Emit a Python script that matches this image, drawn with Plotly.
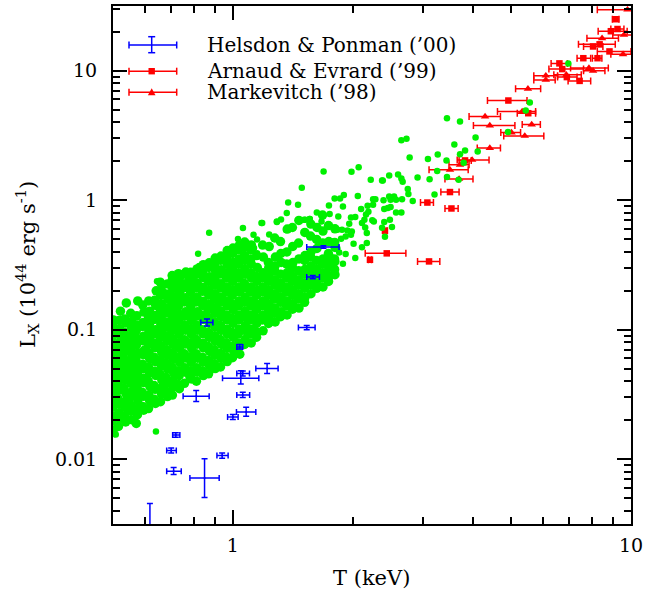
import math
import plotly.graph_objects as go

# ---------------- data ----------------
# Simulated clusters (green points), dense part: temperature T [keV], luminosity L [1e44 erg/s]
green_core_T = [
    0.501, 0.498, 0.502, 0.499, 0.503, 0.500, 0.497, 0.502, 0.499, 0.501, 0.498, 0.503, 0.500, 0.497, 0.502, 0.499, 0.501,
    0.516, 0.520, 0.517, 0.521, 0.515, 0.519, 0.516, 0.520, 0.518, 0.515, 0.521, 0.517, 0.519, 0.516, 0.520, 0.518, 0.522,
    0.538, 0.534, 0.537, 0.535, 0.539, 0.533, 0.536, 0.538, 0.534, 0.537, 0.535, 0.539, 0.536, 0.533, 0.538, 0.535, 0.540,
    0.557, 0.553, 0.556, 0.552, 0.558, 0.554, 0.557, 0.553, 0.556, 0.559, 0.554, 0.557, 0.553, 0.556, 0.558, 0.554,
    0.572, 0.576, 0.573, 0.577, 0.571, 0.575, 0.572, 0.576, 0.574, 0.571, 0.577, 0.573, 0.575, 0.572, 0.576, 0.574, 0.577,
    0.597, 0.593, 0.596, 0.592, 0.598, 0.594, 0.597, 0.593, 0.596, 0.599, 0.594, 0.597, 0.593, 0.596, 0.598, 0.594,
    0.614, 0.618, 0.615, 0.619, 0.613, 0.617, 0.614, 0.618, 0.616, 0.613, 0.619, 0.615, 0.617, 0.614, 0.618, 0.615,
    0.639, 0.635, 0.638, 0.634, 0.640, 0.636, 0.639, 0.635, 0.638, 0.641, 0.636, 0.639, 0.635, 0.638, 0.640, 0.636, 0.642,
    0.658, 0.662, 0.659, 0.663, 0.657, 0.661, 0.658, 0.662, 0.660, 0.657, 0.663, 0.659, 0.661, 0.658, 0.662, 0.659, 0.661, 0.657,
    0.685, 0.681, 0.684, 0.680, 0.686, 0.682, 0.685, 0.681, 0.684, 0.687, 0.682, 0.685, 0.681, 0.684, 0.686, 0.682, 0.685,
    0.705, 0.709, 0.706, 0.710, 0.704, 0.708, 0.705, 0.709, 0.707, 0.704, 0.710, 0.706, 0.708, 0.705, 0.709, 0.706, 0.708, 0.704,
    0.734, 0.730, 0.733, 0.729, 0.735, 0.731, 0.734, 0.730, 0.733, 0.736, 0.731, 0.734, 0.730, 0.733, 0.735, 0.731, 0.734, 0.730,
    0.756, 0.760, 0.757, 0.761, 0.755, 0.759, 0.756, 0.760, 0.758, 0.755, 0.761, 0.757, 0.759, 0.756, 0.760, 0.757, 0.762,
    0.787, 0.783, 0.786, 0.782, 0.788, 0.784, 0.787, 0.783, 0.786, 0.789, 0.784, 0.787, 0.783, 0.786, 0.788, 0.784, 0.781,
    0.810, 0.814, 0.811, 0.815, 0.809, 0.813, 0.810, 0.814, 0.812, 0.809, 0.815, 0.811, 0.813, 0.810, 0.814, 0.811, 0.813,
    0.843, 0.839, 0.842, 0.838, 0.844, 0.840, 0.843, 0.839, 0.842, 0.845, 0.840, 0.843, 0.839, 0.842, 0.844, 0.840, 0.843,
    0.869, 0.873, 0.870, 0.874, 0.868, 0.872, 0.869, 0.873, 0.871, 0.868, 0.874, 0.870, 0.872, 0.869, 0.873, 0.870, 0.872,
    0.903, 0.899, 0.902, 0.898, 0.904, 0.900, 0.903, 0.899, 0.902, 0.905, 0.900, 0.903, 0.899, 0.902, 0.904, 0.900, 0.903,
    0.931, 0.935, 0.932, 0.936, 0.930, 0.934, 0.931, 0.935, 0.933, 0.930, 0.936, 0.932, 0.934, 0.931, 0.935, 0.932, 0.934,
    0.968, 0.964, 0.967, 0.963, 0.969, 0.965, 0.968, 0.964, 0.967, 0.970, 0.965, 0.968, 0.964, 0.967, 0.969, 0.965, 0.968,
    0.998, 1.002, 0.999, 1.003, 0.997, 1.001, 0.998, 1.002, 1.000, 0.997, 1.003, 0.999, 1.001, 0.998, 1.002, 0.999, 1.001,
    1.041, 1.033, 1.036, 1.032, 1.038, 1.034, 1.037, 1.033, 1.036, 1.039, 1.034, 1.037, 1.033, 1.036, 1.038, 1.034, 1.037,
    1.070, 1.074, 1.071, 1.075, 1.069, 1.073, 1.070, 1.074, 1.072, 1.069, 1.075, 1.071, 1.073, 1.070, 1.074, 1.071,
    1.112, 1.108, 1.111, 1.107, 1.113, 1.109, 1.112, 1.108, 1.111, 1.114, 1.109, 1.112, 1.108, 1.111, 1.113,
    1.147, 1.151, 1.148, 1.152, 1.146, 1.150, 1.147, 1.151, 1.149, 1.146, 1.152, 1.148,
    1.191, 1.187, 1.190, 1.186, 1.192, 1.188, 1.191, 1.187, 1.190, 1.193, 1.188,
    1.229, 1.233, 1.230, 1.234, 1.228, 1.232, 1.229, 1.233, 1.231, 1.228, 1.234,
    1.277, 1.273, 1.276, 1.272, 1.278, 1.274, 1.277, 1.273, 1.276, 1.279, 1.274,
    1.318, 1.322, 1.319, 1.323, 1.317, 1.321, 1.318, 1.322, 1.320, 1.317,
    1.368, 1.364, 1.367, 1.363, 1.369, 1.365, 1.368, 1.364, 1.367, 1.370,
    1.412, 1.416, 1.413, 1.417, 1.411, 1.415, 1.412, 1.416, 1.414, 1.411,
    1.466, 1.462, 1.465, 1.461, 1.467, 1.463, 1.466, 1.462, 1.465,
    1.514, 1.518, 1.515, 1.519, 1.513, 1.517, 1.514, 1.518, 1.516,
    1.571, 1.567, 1.570, 1.566, 1.572, 1.568, 1.571, 1.567, 1.570,
    1.623, 1.627, 1.624, 1.628, 1.622, 1.626, 1.623, 1.627,
    1.684, 1.680, 1.683, 1.679, 1.685, 1.681, 1.684, 1.680,
    1.739, 1.743, 1.740, 1.744, 1.738, 1.742, 1.739,
    1.805, 1.801, 1.804, 1.800, 1.806, 1.802, 1.805,
]
green_core_L = [
    0.0168, 0.0197, 0.0213, 0.0252, 0.0276, 0.0318, 0.0355, 0.0410, 0.0455, 0.0524, 0.0585, 0.0671, 0.0750, 0.0866, 0.0961, 0.111, 0.119,
    0.0179, 0.0207, 0.0229, 0.0266, 0.0293, 0.0341, 0.0377, 0.0437, 0.0484, 0.0560, 0.0622, 0.0718, 0.0797, 0.0921, 0.102, 0.118, 0.139,
    0.0194, 0.0216, 0.0250, 0.0277, 0.0320, 0.0354, 0.0411, 0.0455, 0.0527, 0.0583, 0.0675, 0.0748, 0.0866, 0.0958, 0.113, 0.121, 0.161,
    0.0202, 0.0235, 0.0260, 0.0301, 0.0333, 0.0386, 0.0428, 0.0494, 0.0548, 0.0635, 0.0703, 0.0814, 0.0901, 0.104, 0.116, 0.134,
    0.0189, 0.0221, 0.0244, 0.0283, 0.0313, 0.0362, 0.0402, 0.0464, 0.0515, 0.0596, 0.0660, 0.0765, 0.0848, 0.0982, 0.109, 0.128, 0.167,
    0.0239, 0.0256, 0.0306, 0.0329, 0.0391, 0.0422, 0.0500, 0.0541, 0.0641, 0.0694, 0.0823, 0.0892, 0.106, 0.114, 0.137, 0.155,
    0.0246, 0.0283, 0.0313, 0.0363, 0.0402, 0.0464, 0.0515, 0.0597, 0.0660, 0.0766, 0.0847, 0.0984, 0.109, 0.126, 0.139, 0.167,
    0.0270, 0.0290, 0.0347, 0.0371, 0.0444, 0.0478, 0.0567, 0.0613, 0.0728, 0.0787, 0.0932, 0.100, 0.120, 0.129, 0.154, 0.169, 0.200,
    0.0278, 0.0319, 0.0354, 0.0410, 0.0454, 0.0527, 0.0584, 0.0676, 0.0748, 0.0868, 0.0958, 0.111, 0.123, 0.143, 0.158, 0.184, 0.204, 0.233,
    0.0305, 0.0334, 0.0386, 0.0427, 0.0496, 0.0548, 0.0636, 0.0702, 0.0816, 0.0899, 0.105, 0.115, 0.135, 0.148, 0.174, 0.189, 0.226,
    0.0313, 0.0362, 0.0402, 0.0465, 0.0515, 0.0597, 0.0660, 0.0767, 0.0847, 0.0983, 0.109, 0.126, 0.140, 0.162, 0.180, 0.208, 0.231, 0.262,
    0.0351, 0.0377, 0.0442, 0.0483, 0.0562, 0.0620, 0.0720, 0.0795, 0.0925, 0.102, 0.118, 0.131, 0.152, 0.169, 0.195, 0.217, 0.250, 0.271,
    0.0386, 0.0470, 0.0509, 0.0604, 0.0652, 0.0775, 0.0838, 0.0991, 0.108, 0.127, 0.138, 0.164, 0.177, 0.211, 0.227, 0.270, 0.279,
    0.0417, 0.0482, 0.0561, 0.0619, 0.0719, 0.0795, 0.0924, 0.102, 0.118, 0.131, 0.152, 0.168, 0.196, 0.217, 0.250, 0.278, 0.0430,
    0.0401, 0.0470, 0.0509, 0.0603, 0.0653, 0.0774, 0.0839, 0.0990, 0.108, 0.127, 0.138, 0.164, 0.178, 0.210, 0.229, 0.268, 0.295,
    0.0443, 0.0482, 0.0565, 0.0614, 0.0725, 0.0787, 0.0930, 0.100, 0.120, 0.130, 0.154, 0.166, 0.198, 0.213, 0.253, 0.274, 0.318,
    0.0457, 0.0529, 0.0579, 0.0680, 0.0742, 0.0872, 0.0952, 0.112, 0.122, 0.143, 0.157, 0.185, 0.201, 0.236, 0.257, 0.303, 0.329,
    0.0501, 0.0546, 0.0637, 0.0700, 0.0816, 0.0897, 0.105, 0.115, 0.134, 0.148, 0.172, 0.190, 0.222, 0.245, 0.285, 0.312, 0.358,
    0.0516, 0.0600, 0.0655, 0.0770, 0.0840, 0.0987, 0.108, 0.126, 0.139, 0.163, 0.178, 0.210, 0.227, 0.269, 0.291, 0.344, 0.371,
    0.0568, 0.0618, 0.0721, 0.0792, 0.0926, 0.101, 0.119, 0.130, 0.153, 0.167, 0.196, 0.214, 0.251, 0.276, 0.320, 0.353, 0.409,
    0.0609, 0.0695, 0.0743, 0.0872, 0.0951, 0.112, 0.122, 0.143, 0.157, 0.184, 0.201, 0.236, 0.258, 0.302, 0.331, 0.388, 0.427,
    0.0648, 0.0723, 0.0789, 0.0928, 0.101, 0.119, 0.130, 0.153, 0.167, 0.196, 0.214, 0.251, 0.275, 0.322, 0.352, 0.414, 0.447,
    0.0770, 0.0840, 0.0987, 0.108, 0.126, 0.139, 0.163, 0.178, 0.210, 0.228, 0.268, 0.293, 0.343, 0.375, 0.438, 0.476,
    0.0791, 0.0927, 0.101, 0.119, 0.130, 0.153, 0.167, 0.196, 0.214, 0.251, 0.275, 0.322, 0.352, 0.414, 0.452,
    0.0875, 0.0958, 0.112, 0.122, 0.143, 0.157, 0.184, 0.201, 0.236, 0.258, 0.302, 0.374,
    0.0982, 0.119, 0.130, 0.153, 0.167, 0.196, 0.214, 0.251, 0.275, 0.364, 0.451,
    0.112, 0.122, 0.143, 0.157, 0.184, 0.201, 0.236, 0.258, 0.302, 0.331, 0.439,
    0.115, 0.134, 0.147, 0.173, 0.190, 0.222, 0.243, 0.285, 0.310, 0.364, 0.511,
    0.126, 0.138, 0.163, 0.178, 0.209, 0.228, 0.268, 0.331, 0.388, 0.480,
    0.130, 0.153, 0.167, 0.196, 0.214, 0.251, 0.275, 0.322, 0.399, 0.599,
    0.144, 0.157, 0.184, 0.201, 0.236, 0.258, 0.302, 0.331, 0.440, 0.616,
    0.147, 0.173, 0.190, 0.222, 0.243, 0.285, 0.352, 0.467, 0.698,
    0.163, 0.178, 0.209, 0.228, 0.268, 0.292, 0.343, 0.374, 0.564,
    0.190, 0.222, 0.243, 0.285, 0.310, 0.364, 0.399, 0.529, 0.655,
    0.209, 0.228, 0.268, 0.292, 0.343, 0.424, 0.498, 0.616,
    0.214, 0.251, 0.275, 0.322, 0.352, 0.467, 0.578, 0.769,
    0.236, 0.258, 0.302, 0.331, 0.388, 0.480, 0.638,
    0.266, 0.292, 0.336, 0.352, 0.432, 0.472, 0.602,
]
# Simulated clusters (green points), scattered part
green_sparse_T = [
    0.641, 0.645, 0.818, 0.872, 1.150, 1.185, 1.234, 1.290, 1.321, 1.377, 1.366, 1.458, 1.490,
    1.520, 1.560, 1.625, 1.690, 1.750, 1.743, 1.760, 1.801,
    1.859, 1.90, 1.89, 1.986, 2.07, 2.22, 2.37, 2.38, 2.47, 2.60, 2.65, 2.67, 2.91, 3.12, 3.26,
    3.45, 3.69, 2.25, 2.28, 2.39, 2.47, 2.49, 2.54, 2.57, 2.66, 2.75, 2.76, 2.83, 3.21, 2.10,
    2.18, 2.25, 2.16, 2.19, 2.40, 2.45, 2.49, 2.57, 2.65, 1.84, 1.98, 2.03, 2.14, 2.24, 2.26,
    1.96, 2.11, 1.83, 1.88, 1.94, 1.99, 2.15, 2.17, 2.40, 2.48, 2.51, 2.37, 2.41, 1.79, 1.87,
    1.92, 1.98, 2.01, 2.17, 2.11, 1.83, 1.85, 1.92, 1.76, 1.89, 2.03, 1.78, 2.06,
    3.45, 3.72, 4.07, 3.60, 2.73, 2.65, 2.78, 3.09, 3.27, 3.44, 3.72, 3.83, 4.12, 3.80,
    6.96, 5.57, 5.44, 4.91, 0.508, 1.18, 1.06, 1.127, 1.03, 1.51, 1.56,
    0.699, 0.719, 0.762, 0.770, 0.823, 0.872, 0.933,
    1.057, 1.13, 1.15, 1.29, 1.36, 1.67,
]
green_sparse_L = [
    0.0164, 0.237, 0.386, 0.560, 0.497, 0.667, 0.544, 0.679, 0.710, 0.960, 0.797, 0.923, 1.25,
    0.707, 0.716, 0.804, 1.67, 0.783, 0.911, 0.368, 1.03,
    1.03, 1.10, 0.896, 1.66, 1.80, 1.44, 1.42, 1.42, 1.55, 1.58, 1.47, 1.39, 1.50, 1.45, 1.68,
    1.51, 1.44, 1.02, 1.02, 1.00, 1.07, 1.01, 1.07, 1.01, 1.02, 1.22, 1.12, 0.986, 1.11, 0.855,
    0.907, 0.923, 0.777, 0.815, 0.855, 0.87, 0.886, 0.805, 0.805, 0.75, 0.737, 0.742, 0.707, 0.70, 0.686,
    0.659, 0.667, 0.592, 0.592, 0.585, 0.574, 0.617, 0.558, 0.679, 0.707, 0.621, 0.614, 0.523, 0.481, 0.505,
    0.526, 0.542, 0.462, 0.467, 0.433, 0.425, 0.395, 0.385, 0.368, 0.324, 0.358, 0.266, 1.08,
    4.30, 4.05, 3.05, 2.69, 2.98, 2.91, 2.14, 2.08, 2.26, 2.03, 2.27, 2.42, 2.38, 1.95,
    11.4, 5.69, 4.93, 3.36, 0.0155, 0.667, 0.61, 0.542, 0.502, 0.707, 0.716,
    0.243, 0.258, 0.274, 0.250, 0.310, 0.310, 0.370,
    0.427, 0.427, 0.390, 0.686, 0.590, 0.686,
]
assert len(green_core_T) == len(green_core_L)
assert len(green_sparse_T) == len(green_sparse_L)

# Helsdon & Ponman ('00): T, L and error-bar limits
hp_T   = [0.861, 1.041, 1.219, 1.047, 1.059, 0.809, 1.059, 1.080, 1.000, 0.719, 0.700, 0.940, 0.710, 0.849, 1.689, 1.588, 1.533, 0.619]
hp_L   = [0.114, 0.0737, 0.0501, 0.0422, 0.0459, 0.0306, 0.0314, 0.0232, 0.0212, 0.0154, 0.01167, 0.0107, 0.00808, 0.00718, 0.435, 0.255, 0.104, 0.0027]
hp_Tlo = [0.831, 1.023, 1.142, 0.942, 1.023, 0.750, 1.023, 1.021, 0.970, 0.706, 0.682, 0.912, 0.682, 0.780, 1.533, 1.533, 1.461, 0.600]
hp_Thi = [0.891, 1.059, 1.299, 1.162, 1.101, 0.872, 1.102, 1.142, 1.031, 0.736, 0.721, 0.973, 0.742, 0.924, 1.848, 1.650, 1.609, 0.640]
hp_Llo = [0.107, 0.071, 0.0459, 0.0381, 0.044, 0.0279, 0.0300, 0.0215, 0.0203, 0.0148, 0.0112, 0.0102, 0.00762, 0.00506, 0.425, 0.248, 0.100, 0.0018]
hp_Lhi = [0.121, 0.077, 0.0548, 0.0483, 0.048, 0.0339, 0.0329, 0.0252, 0.0222, 0.0160, 0.0122, 0.0112, 0.00865, 0.0101, 0.445, 0.262, 0.108, 0.00455]

# Arnaud & Evrard ('99)
ae_T   = [3.08, 3.54, 3.51, 2.435, 2.21, 3.11, 2.41, 3.83, 4.92, 5.52, 6.61, 6.72, 6.90, 7.43, 7.59, 8.24, 8.83, 8.34, 8.03, 8.90, 9.25, 9.15]
ae_L   = [0.96, 0.864, 1.157, 0.389, 0.347, 0.337, 0.582, 2.03, 5.89, 4.70, 11.4, 10.3, 8.93, 8.35, 12.5, 12.5, 14.1, 16.0, 15.4, 20.2, 21.0, 25.0]
ae_Tlo = [2.96, 3.41, 3.33, 2.15, 2.19, 2.91, 2.38, 3.70, 4.36, 5.18, 6.30, 6.22, 6.54, 6.95, 7.32, 8.00, 8.23, 7.38, 7.60, 8.27, 8.90, 8.98]
ae_Thi = [3.19, 3.68, 3.70, 2.72, 2.23, 3.31, 2.44, 3.97, 5.48, 5.76, 6.92, 7.60, 7.32, 7.92, 7.92, 8.45, 10.0, 9.13, 8.50, 9.78, 9.60, 9.33]

# Markevitch ('98)
mk_T   = [9.80, 9.60, 8.46, 9.55, 7.84, 8.03, 6.11, 6.88, 6.11, 5.51, 5.33, 4.30, 4.42, 5.63, 5.01, 5.41, 4.42, 3.99, 3.72, 3.51, 3.70]
mk_L   = [29.6, 18.9, 17.8, 13.4, 10.5, 10.0, 9.16, 9.3, 8.5, 7.25, 4.85, 4.43, 3.77, 3.84, 3.33, 3.14, 2.53, 2.05, 1.88, 1.72, 1.46]
mk_Tlo = [8.23, 9.00, 7.75, 8.90, 7.05, 7.60, 5.70, 6.40, 5.70, 5.13, 4.62, 3.92, 4.02, 5.33, 4.71, 4.79, 4.11, 3.66, 3.49, 3.11, 3.41]
mk_Thi = [10.5, 10.5, 9.30, 10.5, 8.77, 8.60, 6.54, 7.50, 6.45, 5.93, 5.76, 4.70, 5.11, 5.92, 5.28, 6.04, 4.70, 4.40, 3.92, 3.90, 4.01]

legend_labels = ["Helsdon & Ponman (\u201900)", "Arnaud & Evrard (\u201999)", "Markevitch (\u201998)"]
x_tick_vals = [1, 10]
y_tick_vals = [0.01, 0.1, 1, 10]
x_minor = [0.6, 0.7, 0.8, 0.9, 2, 3, 4, 5, 6, 7, 8, 9]
y_minor = [0.004, 0.005, 0.006, 0.007, 0.008, 0.009,
           0.02, 0.03, 0.04, 0.05, 0.06, 0.07, 0.08, 0.09,
           0.2, 0.3, 0.4, 0.5, 0.6, 0.7, 0.8, 0.9,
           2, 3, 4, 5, 6, 7, 8, 9, 20, 30]

# ---------------- styling / layout ----------------
W, H = 645, 594
X0, X1, Y0, Y1 = 113, 631, 6, 524
FONT = "DejaVu Serif"
RED = "#ff0000"
BLUE = "#0000ff"
GREEN = "#00f000"


def px(x):
    return (x - X0) / (X1 - X0)


def py(y):
    return (Y1 - y) / (Y1 - Y0)


def plus(v, hi):
    return [h - a for a, h in zip(v, hi)]


def minus(v, lo):
    return [a - l for a, l in zip(v, lo)]


fig = go.Figure()

fig.add_trace(go.Scatter(
    x=ae_T, y=ae_L, mode="markers", showlegend=False,
    marker=dict(symbol="square", size=6.5, color=RED, line=dict(width=0)),
    error_x=dict(type="data", symmetric=False, array=plus(ae_T, ae_Thi),
                 arrayminus=minus(ae_T, ae_Tlo), color=RED, thickness=1.5, width=3.5),
))
fig.add_trace(go.Scatter(
    x=mk_T, y=mk_L, mode="markers", showlegend=False,
    marker=dict(symbol="triangle-up", size=7.5, color=RED, line=dict(width=0)),
    error_x=dict(type="data", symmetric=False, array=plus(mk_T, mk_Thi),
                 arrayminus=minus(mk_T, mk_Tlo), color=RED, thickness=1.5, width=3.5),
))
fig.add_trace(go.Scatter(
    x=green_core_T, y=green_core_L, mode="markers", showlegend=False,
    marker=dict(symbol="circle", size=9.5, color=GREEN, line=dict(width=0)),
))
fig.add_trace(go.Scatter(
    x=green_sparse_T, y=green_sparse_L, mode="markers", showlegend=False,
    marker=dict(symbol="circle", size=6.5, color=GREEN, line=dict(width=0)),
))
fig.add_trace(go.Scatter(
    x=hp_T, y=hp_L, mode="markers", showlegend=False,
    marker=dict(symbol="circle", size=2, color=BLUE, line=dict(width=0)),
    error_x=dict(type="data", symmetric=False, array=plus(hp_T, hp_Thi),
                 arrayminus=minus(hp_T, hp_Tlo), color=BLUE, thickness=1.5, width=3),
    error_y=dict(type="data", symmetric=False, array=plus(hp_L, hp_Lhi),
                 arrayminus=minus(hp_L, hp_Llo), color=BLUE, thickness=1.5, width=3),
))

axis_common = dict(
    type="log", showgrid=False, zeroline=False, showline=True, linecolor="black",
    linewidth=2, mirror="allticks", ticks="inside", ticklen=14, tickwidth=1.5,
    tickcolor="black", tickfont=dict(family=FONT, size=19, color="black"),
    automargin=False,
)

fig.update_layout(
    width=W, height=H,
    margin=dict(l=X0, r=W - X1, t=Y0, b=H - Y1, pad=0),
    paper_bgcolor="white", plot_bgcolor="white",
    xaxis=dict(axis_common, range=[math.log10(0.5), 1],
               tickvals=x_tick_vals, ticktext=["1", "10"], ticklabelstandoff=3,
               minor=dict(ticks="inside", ticklen=7, tickwidth=1.5, tickcolor="black",
                          tickvals=x_minor, showgrid=False)),
    yaxis=dict(axis_common, range=[-2.5, 1.5],
               tickvals=y_tick_vals, ticktext=["0.01", "0.1", "1", "10"], ticklabelstandoff=10,
               minor=dict(ticks="inside", ticklen=7, tickwidth=1.5, tickcolor="black",
                          tickvals=y_minor, showgrid=False)),
    showlegend=False,
)

# axis titles
fig.add_annotation(text="T (keV)", x=px(371), y=py(578), xref="paper", yref="paper",
                   showarrow=False, xanchor="center", yanchor="middle",
                   font=dict(family=FONT, size=21, color="black"))
fig.add_annotation(text="L<sub>X</sub> (10<sup>44</sup> erg s<sup>-1</sup>)", textangle=-90,
                   x=px(27), y=py(265), xref="paper", yref="paper",
                   showarrow=False, xanchor="center", yanchor="middle",
                   font=dict(family=FONT, size=21, color="black"))

# legend (drawn by hand so that the error-bar symbols show)
rows = [45, 71.2, 92.2]
colors = [BLUE, RED, RED]
lx0, lx1, lxc = 129, 176.7, 151.7
for yy, col, lab in zip(rows, colors, legend_labels):
    fig.add_shape(type="line", xref="paper", yref="paper", x0=px(lx0), x1=px(lx1), y0=py(yy), y1=py(yy),
                  line=dict(color=col, width=1.5))
    for xc in (lx0, lx1):
        fig.add_shape(type="line", xref="paper", yref="paper", x0=px(xc), x1=px(xc),
                      y0=py(yy - 3.5), y1=py(yy + 3.5), line=dict(color=col, width=1.5))
    fig.add_annotation(text=lab, x=px(205), y=py(yy), xref="paper", yref="paper", showarrow=False,
                       xanchor="left", yanchor="middle", font=dict(family=FONT, size=20, color="black"))

# blue: vertical bar with caps
fig.add_shape(type="line", xref="paper", yref="paper", x0=px(lxc), x1=px(lxc), y0=py(36.7), y1=py(52.7),
              line=dict(color=BLUE, width=1.5))
for yc in (36.7, 52.7):
    fig.add_shape(type="line", xref="paper", yref="paper", x0=px(lxc - 3.5), x1=px(lxc + 3.5), y0=py(yc), y1=py(yc),
                  line=dict(color=BLUE, width=1.5))
# red square
fig.add_shape(type="rect", xref="paper", yref="paper", x0=px(lxc - 3.2), x1=px(lxc + 3.2),
              y0=py(rows[1] - 3.2), y1=py(rows[1] + 3.2), fillcolor=RED, line=dict(width=0))
# red triangle
tri = "M {},{} L {},{} L {},{} Z".format(px(lxc), py(rows[2] - 4), px(lxc - 3.8), py(rows[2] + 3),
                                          px(lxc + 3.8), py(rows[2] + 3))
fig.add_shape(type="path", xref="paper", yref="paper", path=tri, fillcolor=RED, line=dict(width=0))

fig.write_html("out.html", config={"displayModeBar": False},
               post_script="document.body.style.margin='0px';")
